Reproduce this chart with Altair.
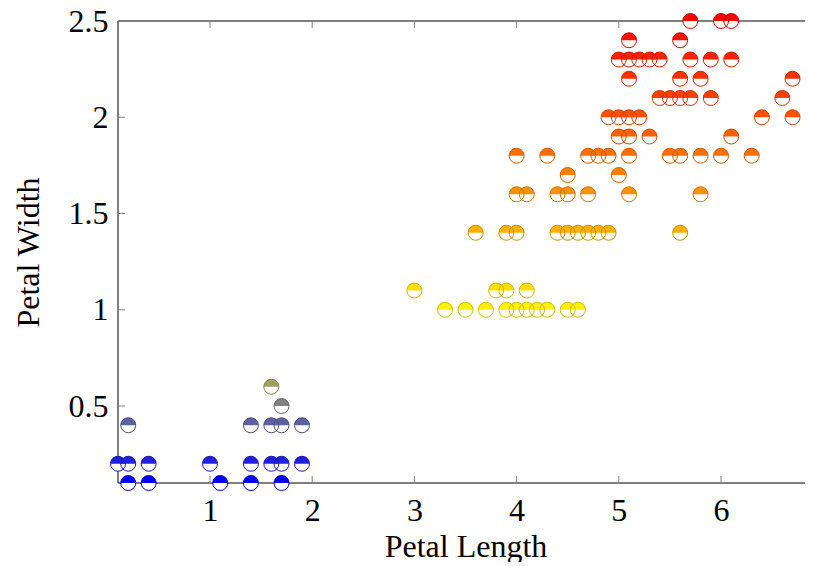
import altair as alt
import pandas as pd

# ---- data (petal length, petal width) ----
petal_length = [
    # width 0.1 / 0.2 / 0.4 / 0.5 / 0.6
    0.2, 0.4, 1.1, 1.4, 1.7,
    0.1, 0.2, 0.4, 1.0, 1.4, 1.6, 1.7, 1.9,
    0.2, 1.4, 1.6, 1.7, 1.9,
    1.7,
    1.6,
    # width 1.0
    3.3, 3.5, 3.7, 3.9, 4.0, 4.1, 4.2, 4.3, 4.5, 4.6,
    # width 1.1
    3.0, 3.8, 3.9, 4.1,
    # width 1.4
    3.6, 3.9, 4.0, 4.4, 4.5, 4.6, 4.7, 4.8, 4.9, 5.6,
    # width 1.6
    4.0, 4.1, 4.4, 4.5, 4.7, 5.1, 5.8,
    # width 1.7
    4.5, 5.0,
    # width 1.8
    4.0, 4.3, 4.7, 4.8, 4.9, 5.1, 5.5, 5.6, 5.8, 6.0, 6.3,
    # width 1.9
    5.0, 5.1, 5.3, 6.1,
    # width 2.0
    4.9, 5.0, 5.1, 5.2, 6.4, 6.7,
    # width 2.1
    5.4, 5.5, 5.6, 5.7, 5.9, 6.6,
    # width 2.2
    5.1, 5.6, 5.8, 6.7,
    # width 2.3
    5.0, 5.1, 5.2, 5.3, 5.4, 5.7, 5.9, 6.1, 6.9,
    # width 2.4
    5.1, 5.6,
    # width 2.5
    5.7, 6.0, 6.1,
]
petal_width = (
    [0.1] * 5 + [0.2] * 8 + [0.4] * 5 + [0.5] * 1 + [0.6] * 1
    + [1.0] * 10 + [1.1] * 4 + [1.4] * 10 + [1.6] * 7 + [1.7] * 2
    + [1.8] * 11 + [1.9] * 4 + [2.0] * 6 + [2.1] * 6 + [2.2] * 4
    + [2.3] * 9 + [2.4] * 2 + [2.5] * 3
)

x_ticks = [1, 2, 3, 4, 5, 6]
y_ticks = [0.5, 1, 1.5, 2, 2.5]
x_domain = [0.1, 6.9]
y_domain = [0.1, 2.5]

# pgfplots "hot" colormap: blue, yellow, orange, red (meta = petal width)
cmap_stops = [0.1, 0.9, 1.7, 2.5]
fill_colors = ["#0000ff", "#ffff00", "#ff8000", "#ff0000"]
stroke_colors = ["#0000cc", "#cccc00", "#cc6600", "#cc0000"]  # mapped color!80!black

W_FULL = 695   # full axis length (right edge falls at the window edge)
W = 687        # visible part of the plot area
H = 462
FONT = "Liberation Serif"
FS = 32
MS = 225
HALF = "M -1 0 A 1 1 0 0 1 1 0 Z"

df = pd.DataFrame({"length": petal_length, "width": petal_width})
xt = pd.DataFrame({"length": x_ticks})
yt = pd.DataFrame({"width": y_ticks})
one = pd.DataFrame({"k": [0]})

xs = alt.Scale(domain=x_domain, nice=False, zero=False, range=[0, W_FULL])
ys = alt.Scale(domain=y_domain, nice=False, zero=False)

xaxis = alt.Axis(values=x_ticks, format="~g", ticks=False, tickSize=0, domain=False,
                 grid=False, labelFont=FONT, labelFontSize=FS, labelColor="black",
                 labelPadding=12, labelFlush=False, labelOverlap=False,
                 title="Petal Length", titleFont=FONT, titleFontSize=FS,
                 titleFontWeight="normal", titleColor="black", titlePadding=5)
yaxis = alt.Axis(values=y_ticks, format="~g", ticks=False, tickSize=0, domain=False,
                 grid=False, labelFont=FONT, labelFontSize=FS, labelColor="black",
                 labelPadding=10, labelFlush=False, labelOverlap=False,
                 title="Petal Width", titleFont=FONT, titleFontSize=FS,
                 titleFontWeight="normal", titleColor="black", titlePadding=23)

X = alt.X("length:Q", scale=xs, axis=xaxis)
Y = alt.Y("width:Q", scale=ys, axis=yaxis)

TC = "#808080"
TL = 7
tick_b = alt.Chart(xt).mark_rule(color=TC, strokeWidth=1).encode(
    x=X, y=alt.value(H), y2=alt.value(H - TL))
tick_t = alt.Chart(xt).mark_rule(color=TC, strokeWidth=1).encode(
    x=X, y=alt.value(0), y2=alt.value(TL))
tick_l = alt.Chart(yt).mark_rule(color=TC, strokeWidth=1).encode(
    y=Y, x=alt.value(0), x2=alt.value(TL))

frame = alt.layer(
    alt.Chart(one).mark_rule(color="black", strokeWidth=1).encode(
        x=alt.value(0), y=alt.value(0), y2=alt.value(H)),
    alt.Chart(one).mark_rule(color="black", strokeWidth=1).encode(
        x=alt.value(0), x2=alt.value(W + 2), y=alt.value(H)),
    alt.Chart(one).mark_rule(color="black", strokeWidth=1).encode(
        x=alt.value(0), x2=alt.value(W + 2), y=alt.value(0)),
)

base = alt.Chart(df)
white = base.mark_point(shape="circle", filled=True, fill="white", size=MS,
                        opacity=1, strokeWidth=0).encode(x=X, y=Y)
half = base.mark_point(shape=HALF, filled=True, size=MS, opacity=1,
                       strokeWidth=0).encode(
    x=X, y=Y,
    fill=alt.Fill("width:Q", scale=alt.Scale(domain=cmap_stops, range=fill_colors,
                                             interpolate="rgb"), legend=None))
outline = base.mark_point(shape="circle", filled=False, size=MS, opacity=1,
                          strokeWidth=1).encode(
    x=X, y=Y,
    stroke=alt.Stroke("width:Q", scale=alt.Scale(domain=cmap_stops, range=stroke_colors,
                                                 interpolate="rgb"), legend=None))

chart = alt.layer(frame, tick_b, tick_t, tick_l, white, half, outline).properties(
    width=W, height=H,
    padding={"left": 110, "top": 13, "right": 0, "bottom": 79},
    autosize=alt.AutoSizeParams(type="none"),
    background="white",
    view=alt.ViewBackground(stroke="transparent", strokeWidth=0, fill="white"),
).configure_view(stroke="transparent", strokeWidth=0)

chart.save("out.html", embed_options={"renderer": "svg", "actions": False})
